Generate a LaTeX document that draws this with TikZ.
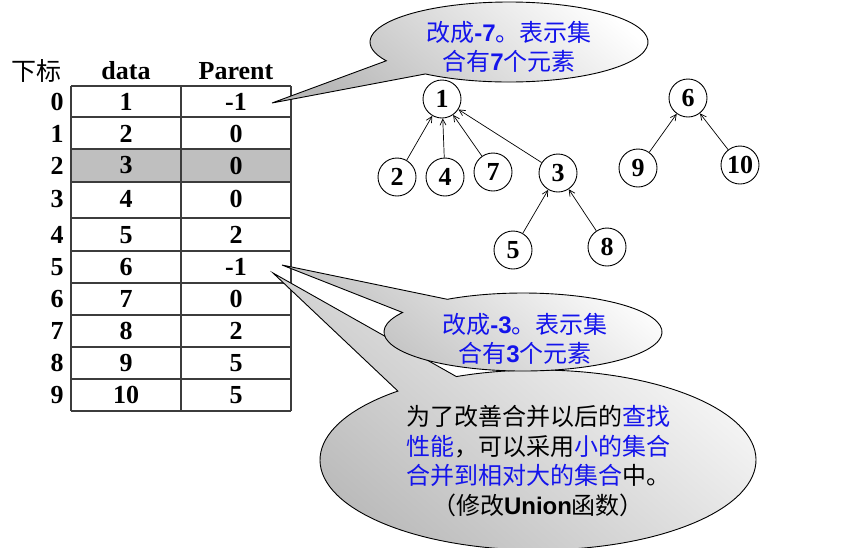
\documentclass[tikz,border=0pt]{standalone}
\usepackage{fontspec}
\setmainfont{Liberation Serif}
\newfontfamily\cjk{Noto Sans CJK SC}
\newfontfamily\lsans{Liberation Sans}
\usetikzlibrary{calc,arrows.meta}
\definecolor{cblue}{RGB}{20,20,235}
\definecolor{tline}{RGB}{60,60,60}
\begin{document}
\begin{tikzpicture}[x=1pt,y=1pt,
  cell/.style={font=\fontsize{26}{26}\selectfont\bfseries, inner sep=0pt},
  tnode/.style={circle, draw=black, line width=0.9pt, minimum size=38pt, inner sep=0pt, font=\fontsize{26}{26}\selectfont\bfseries},
  tarrow/.style={-{Straight Barb[length=6pt,width=6pt]}, line width=0.7pt},
  bubble/.style={draw=black, line width=0.9pt, top color=white, bottom color=gray!55, shading angle=-40},
  btext/.style={align=center, font=\cjk\fontsize{24}{29.5}\selectfont, text=cblue, inner sep=0pt},
  grid/.style={draw=tline, line width=1.3pt}
]
\useasboundingbox (0,0) rectangle (853,-547);
\fill[white] (0,0) rectangle (853,-547);

% ---- table ----
\fill[gray!50] (71,-149) rectangle (291,-182);
\foreach \y in {86,117,149,182,218,251,283,315,347,379,411}
  \draw[grid] (71,-\y) -- (291,-\y);
\foreach \x in {71,181,291}
  \draw[grid] (\x,-86) -- (\x,-411);

\node[cell, font=\cjk\fontsize{25}{25}\selectfont] (hidx) at (37,-71) {下标};
\node[cell] (hd) at (126,-71) {data};
\node[cell] (hp) at (236,-71) {Parent};

\foreach \i/\d/\p/\y in {0/1/-1/102,1/2/0/133.5,2/3/0/165.5,3/4/0/199,4/5/2/235,5/6/-1/267,6/7/0/299,7/8/2/331,8/9/5/363,9/10/5/395}{
  \node[cell] (idx\i) at (57,-\y) {\i};
  \node[cell] (d\i) at (126,-\y) {\d};
  \node[cell] (p\i) at (236,-\y) {\p};
}

% ---- trees ----
\node[tnode] (n1) at (442,-99) {1};
\node[tnode] (n2) at (397,-177) {2};
\node[tnode] (n4) at (445,-177) {4};
\node[tnode] (n7) at (493,-172) {7};
\node[tnode] (n3) at (558,-173) {3};
\node[tnode] (n5) at (513,-250) {5};
\node[tnode] (n8) at (607,-247) {8};
\node[tnode] (n6) at (688,-98) {6};
\node[tnode] (n9) at (638,-168) {9};
\node[tnode] (n10) at (740,-165) {10};
\draw[tarrow] (n2) -- (n1);
\draw[tarrow] (n4) -- (n1);
\draw[tarrow] (n7) -- (n1);
\draw[tarrow] (n3) -- (n1);
\draw[tarrow] (n5) -- (n3);
\draw[tarrow] (n8) -- (n3);
\draw[tarrow] (n9) -- (n6);
\draw[tarrow] (n10) -- (n6);

% ---- callouts ----
\coordinate (C3) at (538,-460);
\coordinate (T3) at (273,-273);
\path[bubble] ($(C3)+(112:218 and 90)$) -- (T3) -- ($(C3)+(130:218 and 90)$)
  arc[start angle=130, end angle=472, x radius=218, y radius=90] -- cycle;

\coordinate (C2) at (523,-332);
\coordinate (T2) at (282,-265);
\path[bubble] ($(C2)+(123:139 and 39)$) -- (T2) -- ($(C2)+(150:139 and 39)$)
  arc[start angle=150, end angle=483, x radius=139, y radius=39] -- cycle;

\coordinate (C1) at (509,-42);
\coordinate (T1) at (272,-103);
\path[bubble] ($(C1)+(208:139 and 40)$) -- (T1) -- ($(C1)+(233:139 and 40)$)
  arc[start angle=233, end angle=568, x radius=139, y radius=40] -- cycle;

\node[btext] (t1) at (509,-47) {改成{\lsans\bfseries -7}。表示集\\合有{\lsans\bfseries 7}个元素};
\node[btext] (t2) at (525,-339) {改成{\lsans\bfseries -3}。表示集\\合有{\lsans\bfseries 3}个元素};
\node[btext, text=black] (t3) at (538,-461) {为了改善合并以后的\textcolor{cblue}{查找}\\\textcolor{cblue}{性能}，可以采用\textcolor{cblue}{小的集合}\\\textcolor{cblue}{合并到相对大的集合}中。\\（修改{\lsans\bfseries Union}函数）};
\end{tikzpicture}
\end{document}
